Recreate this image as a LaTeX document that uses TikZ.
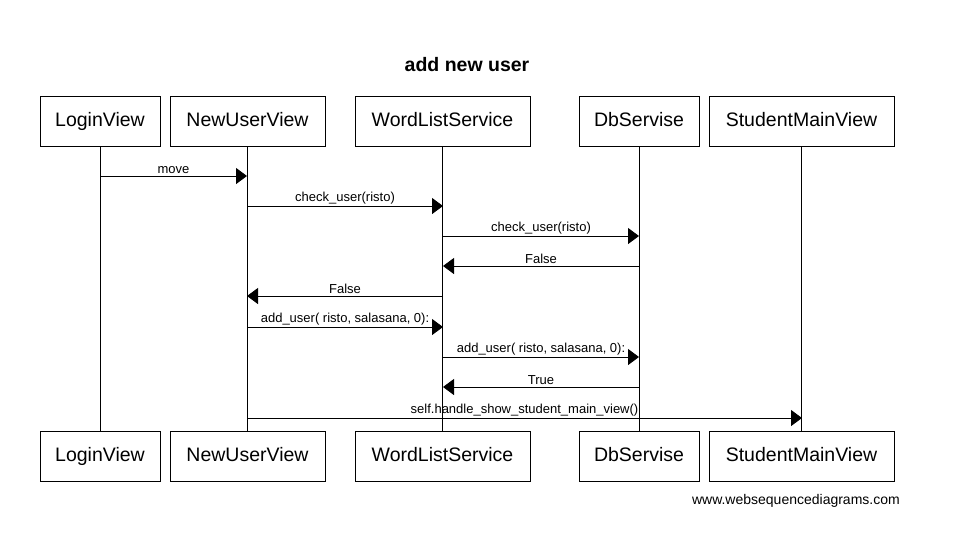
\documentclass[tikz,border=0pt]{standalone}
\usepackage{fontspec}
\setmainfont{Liberation Sans}
\usetikzlibrary{arrows.meta}
\begin{document}
\begin{tikzpicture}[x=1pt,y=-1pt,
  actor/.style={draw,line width=1pt,minimum height=50pt,inner sep=0pt,text height=14pt,text depth=3pt,font=\fontsize{19.5}{22}\selectfont},
  life/.style={line width=1pt},
  msg/.style={line width=1pt,-{Triangle[length=11pt,width=16pt]}},
  lbl/.style={above,inner sep=1.5pt,font=\fontsize{13}{15}\selectfont}]
\useasboundingbox[fill=white] (0,0) rectangle (959,558);
\node[font=\bfseries\fontsize{19.5}{23}\selectfont] (title) at (467,65) {add new user};
% top actors
\node[actor,minimum width=120pt] (tL) at (100,121) {LoginView};
\node[actor,minimum width=155pt] (tN) at (247.5,121) {NewUserView};
\node[actor,minimum width=175pt] (tW) at (442.5,121) {WordListService};
\node[actor,minimum width=120pt] (tD) at (639,121) {DbServise};
\node[actor,minimum width=185pt] (tS) at (801.5,121) {StudentMainView};
% bottom actors
\node[actor,minimum width=120pt] (bL) at (100,456) {LoginView};
\node[actor,minimum width=155pt] (bN) at (247.5,456) {NewUserView};
\node[actor,minimum width=175pt] (bW) at (442.5,456) {WordListService};
\node[actor,minimum width=120pt] (bD) at (639,456) {DbServise};
\node[actor,minimum width=185pt] (bS) at (801.5,456) {StudentMainView};
% lifelines
\draw[life] (tL) -- (bL);
\draw[life] (tN) -- (bN);
\draw[life] (tW) -- (bW);
\draw[life] (tD) -- (bD);
\draw[life] (tS) -- (bS);
% message end points
\coordinate (m1a) at (100,176);   \coordinate (m1b) at (247,176);
\coordinate (m2a) at (247,206);   \coordinate (m2b) at (443,206);
\coordinate (m3a) at (443,236);   \coordinate (m3b) at (639,236);
\coordinate (m4a) at (639,266);   \coordinate (m4b) at (443,266);
\coordinate (m5a) at (443,296);   \coordinate (m5b) at (247,296);
\coordinate (m6a) at (247,327);   \coordinate (m6b) at (443,327);
\coordinate (m7a) at (443,357);   \coordinate (m7b) at (639,357);
\coordinate (m8a) at (639,387);   \coordinate (m8b) at (443,387);
\coordinate (m9a) at (247,418);   \coordinate (m9b) at (802,418);
% messages
\draw[msg] (m1a) -- node[lbl] {move} (m1b);
\draw[msg] (m2a) -- node[lbl] {check\_user(risto)} (m2b);
\draw[msg] (m3a) -- node[lbl] {check\_user(risto)} (m3b);
\draw[msg] (m4a) -- node[lbl] {False} (m4b);
\draw[msg] (m5a) -- node[lbl] {False} (m5b);
\draw[msg] (m6a) -- node[lbl] {add\_user( risto, salasana, 0):} (m6b);
\draw[msg] (m7a) -- node[lbl] {add\_user( risto, salasana, 0):} (m7b);
\draw[msg] (m8a) -- node[lbl] {True} (m8b);
\draw[msg] (m9a) -- node[lbl] {self.handle\_show\_student\_main\_view()} (m9b);
\node[anchor=east,inner sep=0pt,font=\fontsize{14}{16}\selectfont] (wm) at (900,500.5) {www.websequencediagrams.com};
\end{tikzpicture}
\end{document}
